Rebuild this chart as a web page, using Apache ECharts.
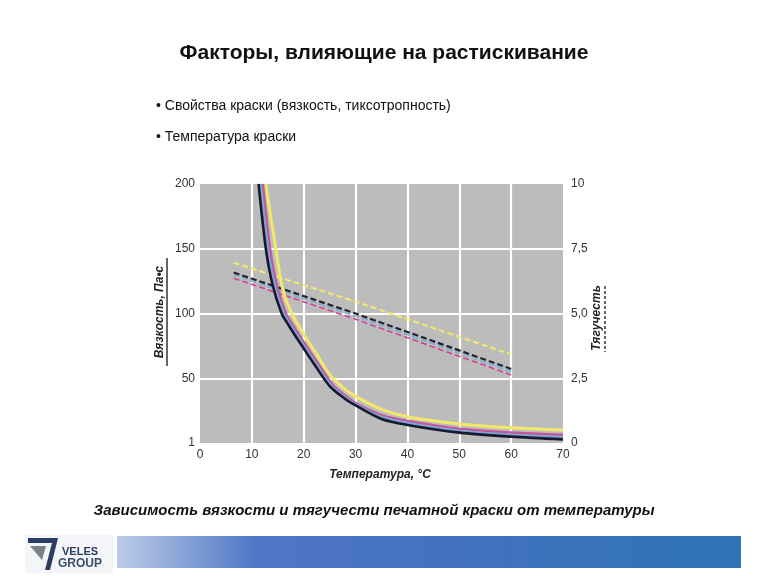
<!DOCTYPE html>
<html><head><meta charset="utf-8">
<script src="https://cdn.jsdelivr.net/npm/echarts@6/dist/echarts.min.js"></script>
<style>html,body{margin:0;padding:0;background:#fff}#c{width:768px;height:576px}</style>
</head><body><div id="c"></div>
<script>
// Viscosity curves (left axis, Pa·s) vs temperature
const blackX = [11.3, 12.7, 14, 15.75, 17, 18.5, 20, 22, 25, 28, 30, 35, 40, 50, 60, 70];
const blackY = [200, 150, 122, 100, 91.5, 82, 73, 61, 44, 34, 29, 18.5, 13.9, 8, 4.9, 2.8];
const blueX = [11.7, 13.1, 14.4, 16.15, 17.4, 18.9, 20.4, 22.4, 25.4, 28.4, 30.4, 35, 40, 50, 60, 70];
const blueY = [200, 150, 122, 100, 91.5, 82, 73, 61, 44, 34, 29, 20, 15.5, 9.5, 6.3, 4.4];
const magentaX = [12.1, 13.5, 14.8, 16.55, 17.8, 19.3, 20.8, 22.8, 25.8, 28.8, 30.8, 35, 40, 50, 60, 70];
const magentaY = [200, 150, 122, 100, 91.5, 82, 73, 61, 44, 34, 29, 21.5, 17, 11, 8, 6.2];
const yellowX = [12.7, 14.6, 16, 17.7, 20, 22.5, 25, 27.5, 30, 35, 40, 50, 60, 70];
const yellowY = [200, 150, 118, 100, 84, 68.5, 53, 43, 36, 26, 20.3, 14.7, 11.8, 10];
// Tack (right axis) dashed lines
const tackX = [6.5, 30, 60];
const tackYellow = [6.96, 5.46, 3.42];
const tackBlack = [6.58, 5.0, 2.86];
const tackBlue = [6.49, 4.9, 2.75];
const tackMagenta = [6.36, 4.78, 2.63];
// Tick labels
const leftTicks = {0: '1', 50: '50', 100: '100', 150: '150', 200: '200'};
const rightTicks = {0: '0', 2.5: '2,5', 5: '5,0', 7.5: '7,5', 10: '10'};

const pairs = (xs, ys) => xs.map((x, i) => [x, ys[i]]);
const F = 'Liberation Sans, Arial, sans-serif';

const chart = echarts.init(document.getElementById('c'), null, {renderer: 'canvas'});

function solid(name, xs, ys, color, w) {
  return {name, type: 'line', yAxisIndex: 0, data: pairs(xs, ys), smooth: 0.3, showSymbol: false,
    lineStyle: {color, width: w}, z: 3};
}
function dashed(name, ys, color, w) {
  return {name, type: 'line', yAxisIndex: 1, data: pairs(tackX, ys), showSymbol: false,
    lineStyle: {color, width: w, type: [6, 3]}, z: 2};
}

chart.setOption({
  animation: false,
  backgroundColor: '#fff',
  grid: {left: 200, right: 205, top: 184, bottom: 133, show: true, backgroundColor: '#bcbcbc', borderWidth: 0},
  xAxis: {type: 'value', min: 0, max: 70, interval: 10,
    axisLine: {show: false}, axisTick: {show: false},
    axisLabel: {color: '#333', fontFamily: F, fontSize: 12, margin: 6},
    splitLine: {show: true, showMinLine: false, showMaxLine: false, lineStyle: {color: '#fff', width: 2.2}}},
  yAxis: [
    {type: 'value', min: 0, max: 200, interval: 50,
      axisLine: {show: false}, axisTick: {show: false},
      axisLabel: {color: '#333', fontFamily: F, fontSize: 12, margin: 5, formatter: v => leftTicks[v]},
      splitLine: {show: true, showMinLine: false, showMaxLine: false, lineStyle: {color: '#fff', width: 2.2}}},
    {type: 'value', min: 0, max: 10, interval: 2.5, position: 'right',
      axisLine: {show: false}, axisTick: {show: false},
      axisLabel: {color: '#333', fontFamily: F, fontSize: 12, margin: 8, formatter: v => rightTicks[v]},
      splitLine: {show: false}}
  ],
  series: [
    dashed('yellowD', tackYellow, '#f2ea6a', 2),
    dashed('magentaD', tackMagenta, '#d6438f', 1.6),
    dashed('blueD', tackBlue, '#7fb2d2', 2),
    dashed('blackD', tackBlack, '#222230', 2.2),
    solid('yellow', yellowX, yellowY, '#f4e86a', 3),
    solid('magenta', magentaX, magentaY, '#c8559a', 2.6),
    solid('blue', blueX, blueY, '#7ba4d6', 2.6),
    solid('black', blackX, blackY, '#161a2c', 2.6)
  ],
  graphic: [
    {type: 'text', x: 384, y: 53, style: {text: 'Факторы, влияющие на растискивание', font: 'bold 21px ' + F, fill: '#111', align: 'center', verticalAlign: 'middle'}},
    {type: 'text', x: 156, y: 106, style: {text: '• Свойства краски (вязкость, тиксотропность)', font: '14px ' + F, fill: '#111', verticalAlign: 'middle'}},
    {type: 'text', x: 156, y: 137, style: {text: '• Температура краски', font: '14px ' + F, fill: '#111', verticalAlign: 'middle'}},
    {type: 'text', x: 160, y: 312, rotation: Math.PI / 2, style: {text: 'Вязкость, Па•с', font: 'italic bold 12px ' + F, fill: '#222', align: 'center', verticalAlign: 'middle'}},
    {type: 'line', shape: {x1: 167, y1: 258, x2: 167, y2: 366}, style: {stroke: '#333', lineWidth: 1.5}},
    {type: 'text', x: 597, y: 318, rotation: Math.PI / 2, style: {text: 'Тягучесть', font: 'italic bold 12px ' + F, fill: '#222', align: 'center', verticalAlign: 'middle'}},
    {type: 'line', shape: {x1: 605, y1: 286, x2: 605, y2: 352}, style: {stroke: '#333', lineWidth: 1.5, lineDash: [3, 2]}},
    {type: 'text', x: 380, y: 475, style: {text: 'Температура, °С', font: 'italic bold 12px ' + F, fill: '#222', align: 'center', verticalAlign: 'middle'}},
    {type: 'text', x: 374, y: 511, style: {text: 'Зависимость вязкости и тягучести печатной краски от температуры', font: 'italic bold 15px ' + F, fill: '#111', align: 'center', verticalAlign: 'middle'}},
    // footer bar
    {type: 'rect', shape: {x: 117, y: 536, width: 624, height: 32},
      style: {fill: new echarts.graphic.LinearGradient(0, 0, 1, 0, [
        {offset: 0, color: '#bccbe6'}, {offset: 0.22, color: '#4f77c6'}, {offset: 0.5, color: '#4471c0'}, {offset: 1, color: '#2d74b3'}])}},
    // logo
    {type: 'rect', shape: {x: 25, y: 535, width: 88, height: 38}, style: {fill: '#f4f5f8'}},
    {type: 'polygon', shape: {points: [[28, 538], [58, 538], [50, 570], [45, 570], [52, 543], [28, 543]]}, style: {fill: '#2c3c62'}},
    {type: 'polygon', shape: {points: [[30, 546], [46, 546], [42, 560]]}, style: {fill: '#7a7f88'}},
    {type: 'text', x: 62, y: 552, style: {text: 'VELES', font: 'bold 11px ' + F, fill: '#2c3c62', verticalAlign: 'middle'}},
    {type: 'text', x: 58, y: 564, style: {text: 'GROUP', font: 'bold 12px ' + F, fill: '#3b4f6e', verticalAlign: 'middle'}}
  ]
});
</script></body></html>
